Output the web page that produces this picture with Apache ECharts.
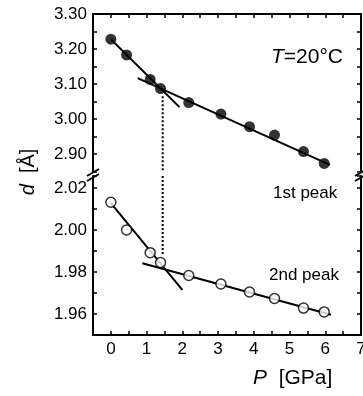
<!DOCTYPE html>
<html>
<head>
<meta charset="utf-8">
<script src="https://cdn.jsdelivr.net/npm/echarts@6/dist/echarts.min.js"></script>
<style>
  html, body { margin: 0; padding: 0; background: #fff; }
  #chart { width: 363px; height: 396px; }
</style>
</head>
<body>
<div id="chart"></div>
<script>
  // 压力 (GPa)
  var pressure = [0, 0.44, 1.1, 1.39, 2.18, 3.08, 3.88, 4.58, 5.39, 5.97]
  // 1st peak / 2nd peak, d [Å]
  var peak1 = [3.228, 3.183, 3.113, 3.087, 3.047, 3.014, 2.978, 2.954, 2.907, 2.873]
  var peak2 = [2.0132, 2.000, 1.9892, 1.9845, 1.9783, 1.9743, 1.9705, 1.9674, 1.9628, 1.9610]

  // 拟合直线端点
  var fit1Steep = [[0, 3.228], [1.92, 3.034]]
  var fit1Flat = [[0.75, 3.117], [6.13, 2.869]]
  var fit2Steep = [[0, 2.0128], [2.0, 1.9715]]
  var fit2Flat = [[0.88, 1.9842], [6.16, 1.9596]]

  // 转折压力 (虚线)
  var pTurn = 1.45
  var dTurnTop = 3.065
  var dTurnBottom = 1.988

  var yTop = { min: 2.85, max: 3.30, step: 0.05 }
  var yBottom = { min: 1.95, max: 2.0257, step: 0.01 }

  var font = 'Liberation Sans, Arial, sans-serif'

  function zip(xs, ys) {
    return xs.map(function (x, i) { return [x, ys[i]] })
  }

  var chart = echarts.init(document.getElementById('chart'), null, { renderer: 'canvas' })

  var axisLine = { show: true, onZero: false, lineStyle: { color: '#000', width: 2 } }
  var axisTick = { show: true, inside: true, length: 4, lineStyle: { color: '#000', width: 1.5 } }

  function xAxis(gridIndex, position, showLabel) {
    return {
      type: 'value', gridIndex: gridIndex, position: position,
      min: -0.5, max: 7, interval: 0.5,
      axisLine: axisLine, axisTick: axisTick,
      splitLine: { show: false },
      axisLabel: {
        show: showLabel, color: '#000', fontFamily: font, fontSize: 17, margin: 6,
        formatter: function (v) { return Number.isInteger(v) ? String(v) : '' }
      }
    }
  }

  function yAxis(gridIndex, position, range, showLabel, every) {
    return {
      type: 'value', gridIndex: gridIndex, position: position,
      min: range.min, max: range.max, interval: range.step,
      axisLine: axisLine, axisTick: axisTick,
      splitLine: { show: false },
      axisLabel: {
        show: showLabel, color: '#000', fontFamily: font, fontSize: 17, margin: 6,
        formatter: function (v) {
          var r = Math.round(v * 100)
          if (Math.abs(v * 100 - r) > 1e-6) return ''
          return r % every === 0 ? v.toFixed(2) : ''
        }
      }
    }
  }

  function line(data, xi, yi, type) {
    return {
      type: 'line', xAxisIndex: xi, yAxisIndex: yi, data: data,
      symbol: 'none', silent: true,
      lineStyle: { color: '#000', width: 2, type: type || 'solid' },
      z: 2
    }
  }

  var option = {
    backgroundColor: '#fff',
    animation: false,
    grid: [
      { left: 93, right: 2, top: 14, height: 157.5, outerBoundsMode: 'none', containLabel: false },
      { left: 93, right: 2, top: 176, bottom: 61, outerBoundsMode: 'none', containLabel: false }
    ],
    xAxis: [
      xAxis(0, 'top', false),
      xAxis(1, 'bottom', true)
    ],
    yAxis: [
      yAxis(0, 'left', yTop, true, 10),
      yAxis(0, 'right', yTop, false, 10),
      yAxis(1, 'left', yBottom, true, 2),
      yAxis(1, 'right', yBottom, false, 2)
    ],
    series: [
      line(fit1Steep, 0, 0),
      line(fit1Flat, 0, 0),
      line(fit2Steep, 1, 2),
      line(fit2Flat, 1, 2),
      line([[pTurn, dTurnTop], [pTurn, yTop.min]], 0, 0, [2, 2]),
      line([[pTurn, yBottom.max], [pTurn, dTurnBottom]], 1, 2, [2, 2]),
      {
        name: '1st peak', type: 'scatter', xAxisIndex: 0, yAxisIndex: 0,
        data: zip(pressure, peak1), symbol: 'circle', symbolSize: 11,
        itemStyle: { color: '#000' }, z: 3
      },
      {
        name: '2nd peak', type: 'scatter', xAxisIndex: 1, yAxisIndex: 2,
        data: zip(pressure, peak2), symbol: 'circle', symbolSize: 10,
        itemStyle: { color: '#fff', borderColor: '#000', borderWidth: 1.5 }, z: 3
      }
    ],
    graphic: [
      // 断轴标记
      { type: 'line', shape: { x1: 87, y1: 176, x2: 99, y2: 169 }, style: { stroke: '#000', lineWidth: 2 } },
      { type: 'line', shape: { x1: 87, y1: 181, x2: 99, y2: 174 }, style: { stroke: '#000', lineWidth: 2 } },
      { type: 'line', shape: { x1: 355, y1: 176, x2: 367, y2: 169 }, style: { stroke: '#000', lineWidth: 2 } },
      { type: 'line', shape: { x1: 355, y1: 181, x2: 367, y2: 174 }, style: { stroke: '#000', lineWidth: 2 } },
      {
        type: 'text', left: 271, top: 47,
        style: {
          text: '{i|T}=20°C', fontFamily: font, fontSize: 21, fill: '#000',
          rich: { i: { fontStyle: 'italic', fontFamily: font, fontSize: 21 } }
        }
      },
      { type: 'text', left: 273, top: 185, style: { text: '1st peak', fontFamily: font, fontSize: 17, fill: '#000' } },
      { type: 'text', left: 269, top: 267, style: { text: '2nd peak', fontFamily: font, fontSize: 17, fill: '#000' } },
      {
        type: 'text', left: 253, top: 368,
        style: {
          text: '{i|P}  [GPa]', fontFamily: font, fontSize: 21, fill: '#000',
          rich: { i: { fontStyle: 'italic', fontFamily: font, fontSize: 21 } }
        }
      },
      {
        type: 'text', x: 28, y: 172, rotation: Math.PI / 2,
        style: {
          text: '{i|d}  [Å]', fontFamily: font, fontSize: 20, fill: '#000',
          align: 'center', verticalAlign: 'middle',
          rich: { i: { fontStyle: 'italic', fontFamily: font, fontSize: 20 } }
        }
      }
    ]
  }

  chart.setOption(option)
</script>
</body>
</html>
